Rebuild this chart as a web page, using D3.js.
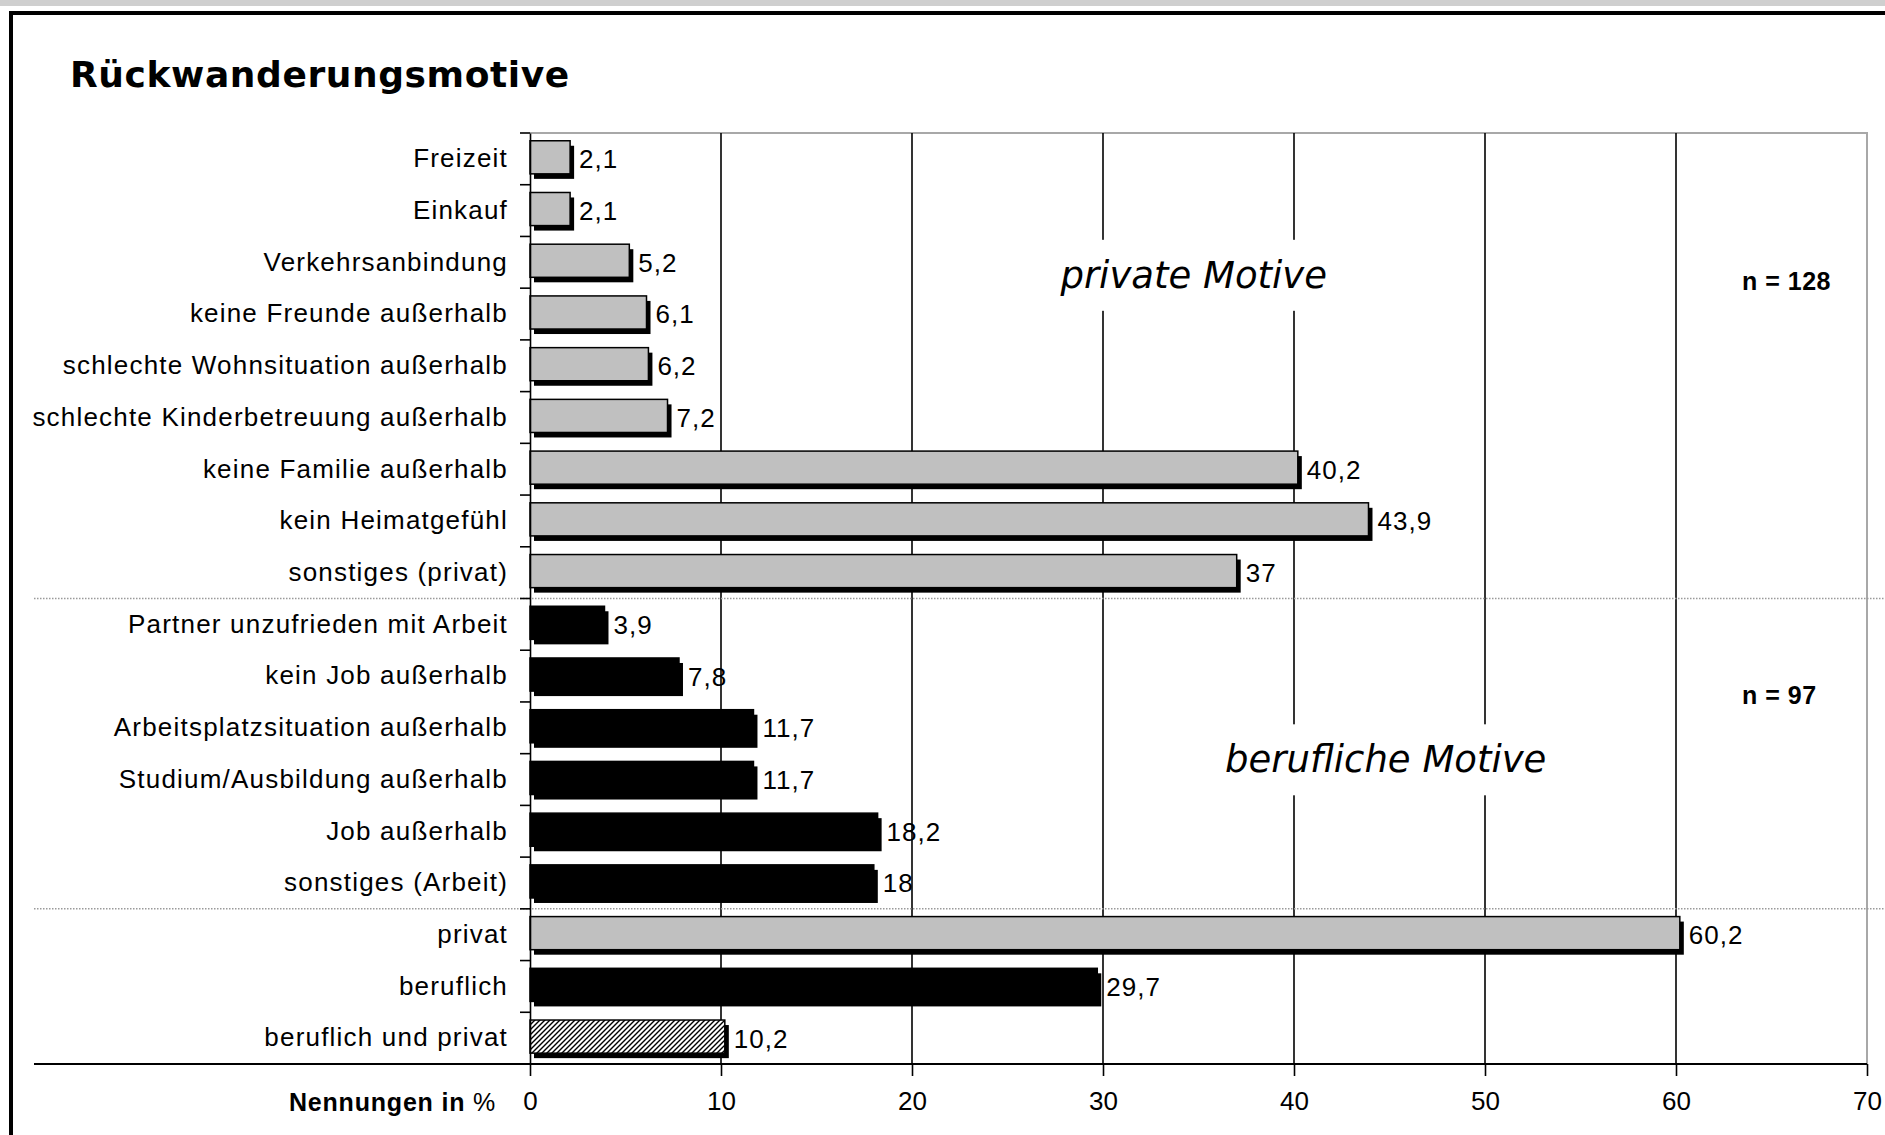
<!DOCTYPE html>
<html>
<head>
<meta charset="utf-8">
<script src="https://cdn.jsdelivr.net/npm/d3@7/dist/d3.min.js"></script>
<style>
  body { margin: 0; background: #fff; }
  svg { display: block; }
</style>
</head>
<body>
<div id="chart"></div>
<script>
// Rückwanderungsmotive - Nennungen in %
const categories = [
    'Freizeit', 'Einkauf', 'Verkehrsanbindung', 'keine Freunde außerhalb',
    'schlechte Wohnsituation außerhalb', 'schlechte Kinderbetreuung außerhalb',
    'keine Familie außerhalb', 'kein Heimatgefühl', 'sonstiges (privat)',
    'Partner unzufrieden mit Arbeit', 'kein Job außerhalb', 'Arbeitsplatzsituation außerhalb',
    'Studium/Ausbildung außerhalb', 'Job außerhalb', 'sonstiges (Arbeit)',
    'privat', 'beruflich', 'beruflich und privat'
];
const values = [2.1, 2.1, 5.2, 6.1, 6.2, 7.2, 40.2, 43.9, 37,
    3.9, 7.8, 11.7, 11.7, 18.2, 18,
    60.2, 29.7, 10.2];
// motive type of each row: privat / beruflich / beides
const groups = ['privat', 'privat', 'privat', 'privat', 'privat', 'privat', 'privat', 'privat', 'privat',
    'beruflich', 'beruflich', 'beruflich', 'beruflich', 'beruflich', 'beruflich',
    'privat', 'beruflich', 'beides'];
const xTicks = [0, 10, 20, 30, 40, 50, 60, 70];
const separatorsAfter = ['sonstiges (privat)', 'sonstiges (Arbeit)'];
const sampleSizes = [
    { text: 'n = 128', row: 'Verkehrsanbindung' },
    { text: 'n = 97', row: 'kein Job außerhalb' }
];
const groupLabels = [
    { text: 'private Motive', value: 34.75, row: 'Verkehrsanbindung' },
    { text: 'berufliche Motive', value: 44.8, row: 'Arbeitsplatzsituation außerhalb' }
];

const W = 1885, H = 1135;
const margin = { left: 530, right: 18, top: 133, bottom: 71 };
const font = '"Liberation Sans", Arial, sans-serif';

const svg = d3.select('#chart').append('svg')
    .attr('width', W)
    .attr('height', H)
    .attr('viewBox', `0 0 ${W} ${H}`);

// hatch pattern for "beruflich und privat"
const defs = svg.append('defs');
defs.append('pattern')
    .attr('id', 'hatch')
    .attr('patternUnits', 'userSpaceOnUse')
    .attr('width', 5)
    .attr('height', 5)
    .call(p => {
        p.append('rect').attr('width', 5).attr('height', 5).attr('fill', '#fff');
        p.append('path')
            .attr('d', 'M-1,1 l2,-2 M0,5 l5,-5 M4,6 l2,-2')
            .attr('stroke', '#000')
            .attr('stroke-width', 1.4);
    });

// window frame
svg.append('rect').attr('width', W).attr('height', 6).attr('fill', '#cfcfcf');
svg.append('line')
    .attr('x1', 11).attr('x2', W).attr('y1', 13).attr('y2', 13)
    .attr('stroke', '#000').attr('stroke-width', 4);
svg.append('line')
    .attr('x1', 11).attr('x2', 11).attr('y1', 11).attr('y2', H)
    .attr('stroke', '#000').attr('stroke-width', 4);

// title
svg.append('text')
    .attr('x', 70)
    .attr('y', 87)
    .attr('font-family', '"DejaVu Sans", sans-serif')
    .attr('font-weight', 'bold')
    .attr('font-size', '36px')
    .attr('letter-spacing', '0.6px')
    .attr('fill', '#000')
    .text('Rückwanderungsmotive');

const x = d3.scaleLinear()
    .domain([0, 70])
    .range([margin.left, W - margin.right]);

const y = d3.scaleBand()
    .domain(categories)
    .range([margin.top, H - margin.bottom])
    .padding(0);

const bw = y.bandwidth();
const barTop = bw * 0.15;
const barH = bw * 0.64;
const shadow = { dx: 4, dy: 5 };

const plotBottom = H - margin.bottom;

// plot frame (top + right, grey)
svg.append('path')
    .attr('d', `M${x(0)},${margin.top} H${x(70)} V${plotBottom}`)
    .attr('fill', 'none')
    .attr('stroke', '#a8a8a8')
    .attr('stroke-width', 2);

// vertical gridlines
svg.append('g')
    .selectAll('line')
    .data(xTicks.filter(t => t > 0 && t < 70))
    .join('line')
    .attr('x1', d => x(d)).attr('x2', d => x(d))
    .attr('y1', margin.top).attr('y2', plotBottom)
    .attr('stroke', '#000')
    .attr('stroke-width', 1.6);

// group labels on white boxes (they break the gridlines)
groupLabels.forEach((g, i) => {
    const gg = svg.append('g');
    const t = gg.append('text')
        .attr('x', x(g.value))
        .attr('y', y(g.row) + bw / 2 + (i === 0 ? 13 : 32))
        .attr('text-anchor', 'middle')
        .attr('dominant-baseline', 'central')
        .attr('font-family', '"DejaVu Sans", sans-serif')
        .attr('font-style', 'italic')
        .attr('font-size', '37px')
        .attr('fill', '#000')
        .text(g.text);
    const bb = t.node().getBBox();
    gg.insert('rect', 'text')
        .attr('x', bb.x - 8)
        .attr('y', bb.y - 14)
        .attr('width', bb.width + 16)
        .attr('height', bb.height + 28)
        .attr('fill', '#fff');
});

// sample sizes
svg.append('g')
    .selectAll('text')
    .data(sampleSizes)
    .join('text')
    .attr('x', 1742)
    .attr('y', d => y(d.row) + bw / 2 + 19)
    .attr('dominant-baseline', 'central')
    .attr('font-family', '"Liberation Sans Narrow", "Liberation Sans", sans-serif')
    .attr('font-weight', 'bold')
    .attr('font-size', '25px')
    .attr('letter-spacing', '0.5px')
    .attr('fill', '#000')
    .text(d => d.text);

// dotted separators between the blocks
svg.append('g')
    .selectAll('line')
    .data(separatorsAfter)
    .join('line')
    .attr('x1', 34).attr('x2', W)
    .attr('y1', d => y(d) + bw).attr('y2', d => y(d) + bw)
    .attr('stroke', '#9a9a9a')
    .attr('stroke-width', 1.5)
    .attr('stroke-dasharray', '1.5,1.5');

// bars
const rows = categories.map((c, i) => ({ cat: c, value: values[i], group: groups[i] }));
const fillFor = g => g === 'privat' ? '#c0c0c0' : g === 'beruflich' ? '#000' : 'url(#hatch)';

const bars = svg.append('g')
    .selectAll('g')
    .data(rows)
    .join('g');

bars.append('rect')
    .attr('x', x(0) + shadow.dx)
    .attr('y', d => y(d.cat) + barTop + shadow.dy)
    .attr('width', d => x(d.value) - x(0))
    .attr('height', barH)
    .attr('fill', '#000');

bars.append('rect')
    .attr('x', x(0))
    .attr('y', d => y(d.cat) + barTop)
    .attr('width', d => x(d.value) - x(0))
    .attr('height', barH)
    .attr('fill', d => fillFor(d.group))
    .attr('stroke', '#000')
    .attr('stroke-width', 1.5);

bars.append('text')
    .attr('x', d => x(d.value) + shadow.dx + 5)
    .attr('y', d => y(d.cat) + barTop + barH / 2 + 2)
    .attr('dominant-baseline', 'central')
    .attr('font-family', font)
    .attr('font-size', '26px')
    .attr('letter-spacing', '1px')
    .attr('fill', '#000')
    .text(d => String(d.value).replace('.', ','));

// y axis (category labels)
const yAxis = svg.append('g')
    .attr('transform', `translate(${x(0)},0)`)
    .call(d3.axisLeft(y).tickSize(0).tickPadding(22));
yAxis.select('.domain').attr('stroke', '#000').attr('stroke-width', 1.6);
yAxis.selectAll('text')
    .attr('font-family', font)
    .attr('font-size', '26px')
    .attr('letter-spacing', '1.2px')
    .attr('fill', '#000');

// small ticks between categories
svg.append('g')
    .selectAll('line')
    .data(categories)
    .join('line')
    .attr('x1', x(0) - 10).attr('x2', x(0))
    .attr('y1', d => y(d)).attr('y2', d => y(d))
    .attr('stroke', '#000')
    .attr('stroke-width', 1.6);

// x axis
svg.append('line')
    .attr('x1', 34).attr('x2', x(70))
    .attr('y1', plotBottom).attr('y2', plotBottom)
    .attr('stroke', '#000')
    .attr('stroke-width', 2);

const xAxis = svg.append('g')
    .attr('transform', `translate(0,${plotBottom})`)
    .call(d3.axisBottom(x).tickValues(xTicks).tickSize(12).tickPadding(16));
xAxis.select('.domain').remove();
xAxis.selectAll('line').attr('stroke', '#000').attr('stroke-width', 1.6);
xAxis.selectAll('text')
    .attr('font-family', font)
    .attr('font-size', '26px')
    .attr('fill', '#000');

// axis title
const axTitle = svg.append('text')
    .attr('x', 496)
    .attr('y', 1102)
    .attr('text-anchor', 'end')
    .attr('dominant-baseline', 'central')
    .attr('font-family', font)
    .attr('font-size', '25px')
    .attr('letter-spacing', '0.8px')
    .attr('fill', '#000');
axTitle.append('tspan').attr('font-weight', 'bold').text('Nennungen in ');
axTitle.append('tspan').text('%');
</script>
</body>
</html>
